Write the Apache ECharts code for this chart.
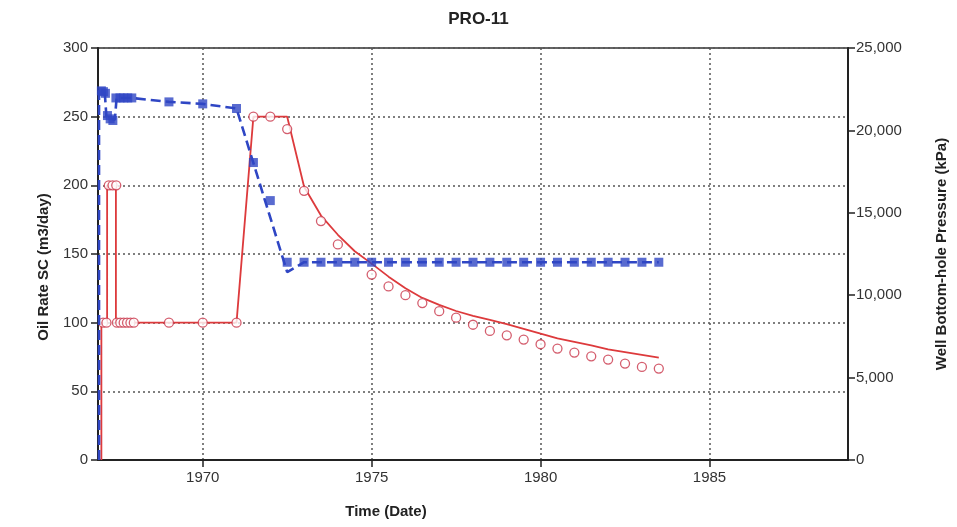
<!DOCTYPE html>
<html>
<head>
<meta charset="utf-8">
<title>PRO-11</title>
<script src="https://cdn.jsdelivr.net/npm/echarts@6/dist/echarts.min.js"></script>
<style>
  html, body { margin: 0; padding: 0; background: #fff; }
  #chart { width: 957px; height: 527px; }
</style>
</head>
<body>
<div id="chart"></div>
<script>
// Well PRO-11: simulated vs. historical oil rate and bottom-hole pressure
const yearTicks = [1970, 1975, 1980, 1985];

// Simulated oil rate (m3/day)
const simOilTime = [1967.0, 1967.0, 1967.17, 1967.17, 1967.43, 1967.43, 1971.0, 1971.5, 1972.5,
  1973.0, 1973.5, 1974.0, 1974.5, 1975.0, 1975.5, 1976.0, 1976.5, 1977.0, 1977.5, 1978.0,
  1978.5, 1979.0, 1979.5, 1980.0, 1980.5, 1981.0, 1981.5, 1982.0, 1982.5, 1983.0, 1983.5];
const simOilRate = [0, 100, 100, 200, 200, 100, 100, 250, 250,
  199, 178, 164, 152, 143, 133.5, 125, 118, 113, 108.5, 105,
  102, 99, 95.5, 92, 88.5, 86, 83.5, 80.5, 78.5, 76.5, 74.5];

// Historical oil rate (m3/day)
const obsOilTime = [1967.05, 1967.15, 1967.22, 1967.33, 1967.44, 1967.46, 1967.56, 1967.66,
  1967.76, 1967.86, 1967.96, 1969.0, 1970.0, 1971.0, 1971.5, 1972.0, 1972.5, 1973.0, 1973.5,
  1974.0, 1975.0, 1975.5, 1976.0, 1976.5, 1977.0, 1977.5, 1978.0, 1978.5, 1979.0, 1979.5,
  1980.0, 1980.5, 1981.0, 1981.5, 1982.0, 1982.5, 1983.0, 1983.5];
const obsOilRate = [100, 100, 200, 200, 200, 100, 100, 100,
  100, 100, 100, 100, 100, 100, 250, 250, 241, 196, 174,
  157, 135, 126.4, 120, 114.3, 108.4, 103.6, 98.5, 94, 90.8, 87.7,
  84.3, 81.1, 78.2, 75.5, 73.1, 70.2, 67.8, 66.6];

// Simulated bottom-hole pressure (kPa)
const simBhpTime = [1966.93, 1966.93, 1967.1, 1967.15, 1967.4, 1967.45, 1967.9, 1969.0, 1970.0,
  1971.0, 1972.5, 1973.0, 1983.5];
const simBhpPressure = [0, 22400, 22300, 20800, 20640, 21970, 21970, 21730, 21610,
  21330, 11400, 12000, 12000];

// Historical bottom-hole pressure (kPa)
const obsBhpTime = [1967.0, 1967.06, 1967.12, 1967.18, 1967.26, 1967.34, 1967.43, 1967.55,
  1967.66, 1967.78, 1967.9, 1969.0, 1970.0, 1971.0, 1971.5, 1972.0,
  1972.5, 1973.0, 1973.5, 1974.0, 1974.5, 1975.0, 1975.5, 1976.0, 1976.5, 1977.0, 1977.5,
  1978.0, 1978.5, 1979.0, 1979.5, 1980.0, 1980.5, 1981.0, 1981.5, 1982.0, 1982.5, 1983.0, 1983.5];
const obsBhpPressure = [22400, 22350, 22250, 20900, 20700, 20600, 21970, 21970,
  21970, 21970, 21970, 21730, 21610, 21330, 18050, 15740,
  12000, 12000, 12000, 12000, 12000, 12000, 12000, 12000, 12000, 12000, 12000,
  12000, 12000, 12000, 12000, 12000, 12000, 12000, 12000, 12000, 12000, 12000, 12000];

const zip = (xs, ys) => xs.map((x, i) => [x, ys[i]]);

const RED = '#dd3a3c';
const BLUE = '#2f46c4';
const FONT = '"Liberation Sans", Arial, sans-serif';

const chart = echarts.init(document.getElementById('chart'), null, { renderer: 'canvas' });

chart.setOption({
  animation: false,
  backgroundColor: '#fff',
  textStyle: { fontFamily: FONT },
  title: {
    text: 'PRO-11',
    left: 'center',
    top: 6,
    textStyle: { fontFamily: FONT, fontSize: 17, fontWeight: 'bold', color: '#222' }
  },
  grid: {
    left: 98, right: 109, top: 48, bottom: 67,
    show: true, borderColor: '#333', borderWidth: 1.5, backgroundColor: 'transparent'
  },
  xAxis: {
    type: 'value',
    min: 1966.9,
    max: 1989.1,
    name: 'Time (Date)',
    nameLocation: 'middle',
    nameGap: 44,
    nameTextStyle: { fontFamily: FONT, fontSize: 15, fontWeight: 'bold', color: '#222', padding: [0, 174, 0, 0] },
    axisLine: { show: true, onZero: false, lineStyle: { color: '#222', width: 2 } },
    axisTick: { show: true, length: 7, customValues: yearTicks, lineStyle: { color: '#222', width: 1.5 } },
    axisLabel: { customValues: yearTicks, fontSize: 15, color: '#333', margin: 10, formatter: v => String(v) },
    splitLine: { show: true, lineStyle: { color: '#555', width: 1.5, type: [2, 3] } }
  },
  yAxis: [
    {
      type: 'value',
      min: 0, max: 300, interval: 50,
      position: 'left',
      name: 'Oil Rate SC (m3/day)',
      nameLocation: 'middle',
      nameGap: 47,
      nameTextStyle: { fontFamily: FONT, fontSize: 15, fontWeight: 'bold', color: '#222', padding: [0, 26, 0, 0] },
      axisLine: { show: true, lineStyle: { color: '#222', width: 2 } },
      axisTick: { show: true, length: 7, lineStyle: { color: '#222', width: 1.5 } },
      axisLabel: { fontSize: 15, color: '#333', margin: 10 },
      splitLine: { show: true, lineStyle: { color: '#555', width: 1.5, type: [2, 3] } }
    },
    {
      type: 'value',
      min: 0, max: 25000, interval: 5000,
      position: 'right',
      name: 'Well Bottom-hole Pressure (kPa)',
      nameLocation: 'middle',
      nameGap: 86,
      nameTextStyle: { fontFamily: FONT, fontSize: 15, fontWeight: 'bold', color: '#222' },
      axisLine: { show: true, lineStyle: { color: '#222', width: 2 } },
      axisTick: { show: true, length: 7, lineStyle: { color: '#222', width: 1.5 } },
      axisLabel: {
        fontSize: 15, color: '#333', margin: 8,
        formatter: v => v.toLocaleString('en-US')
      },
      splitLine: { show: false }
    }
  ],
  series: [
    {
      name: 'Oil Rate SC (simulated)',
      type: 'line',
      yAxisIndex: 0,
      data: zip(simOilTime, simOilRate),
      showSymbol: false,
      lineStyle: { color: RED, width: 1.8 },
      itemStyle: { color: RED },
      z: 2
    },
    {
      name: 'Oil Rate SC (history)',
      type: 'scatter',
      yAxisIndex: 0,
      data: zip(obsOilTime, obsOilRate),
      symbol: 'circle',
      symbolSize: 9,
      itemStyle: { color: '#fff', borderColor: '#c9364a', borderWidth: 1.3 },
      z: 3
    },
    {
      name: 'Bottom-hole Pressure (simulated)',
      type: 'line',
      yAxisIndex: 1,
      data: zip(simBhpTime, simBhpPressure),
      showSymbol: false,
      lineStyle: { color: BLUE, width: 2.6, type: [10, 5] },
      itemStyle: { color: BLUE },
      z: 4
    },
    {
      name: 'Bottom-hole Pressure (history)',
      type: 'scatter',
      yAxisIndex: 1,
      data: zip(obsBhpTime, obsBhpPressure),
      symbol: 'rect',
      symbolSize: 9,
      itemStyle: { color: BLUE },
      z: 5
    }
  ]
});
</script>
</body>
</html>
